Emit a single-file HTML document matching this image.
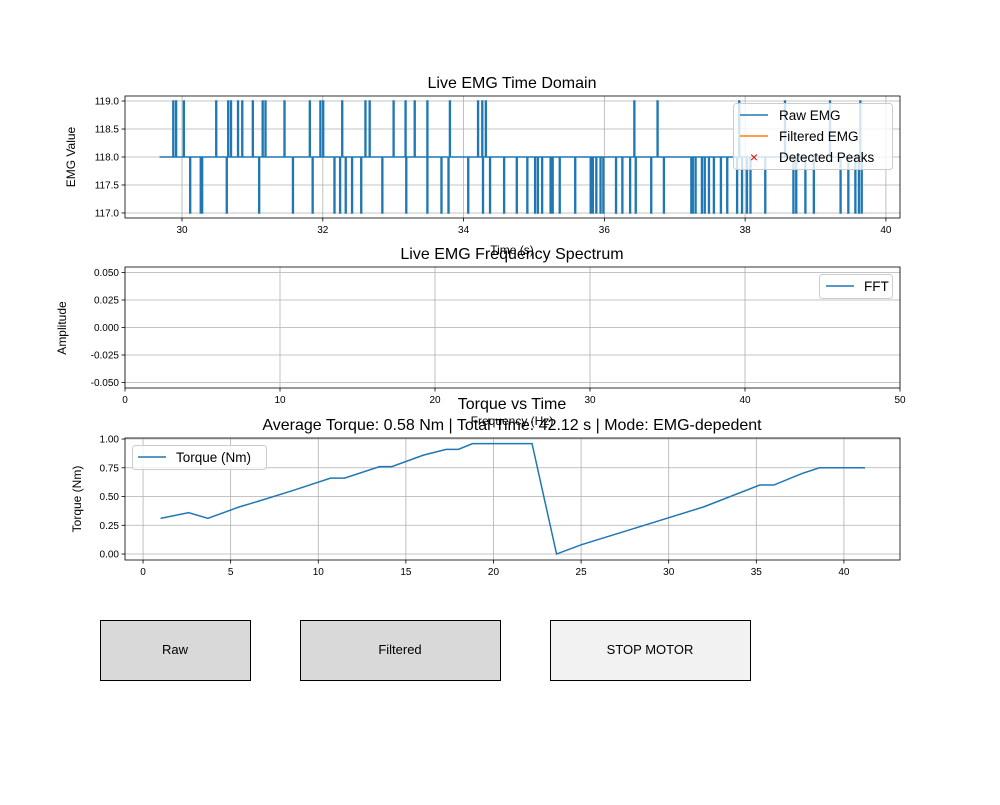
<!DOCTYPE html>
<html><head><meta charset="utf-8"><style>
body{margin:0;background:#fff;}
svg text{font-family:"Liberation Sans","DejaVu Sans",sans-serif;fill:#000;}
</style></head><body>
<svg id="fig" width="1000" height="800" viewBox="0 0 1000 800" xmlns="http://www.w3.org/2000/svg">
<rect width="1000" height="800" fill="#fff"/>
<g id="g1"></g>
<g id="g2"></g>
<g id="g3"></g>
<g><rect x="100.5" y="620.5" width="150" height="60" fill="#d9d9d9" stroke="#000"/><text x="175" y="654" font-size="13" text-anchor="middle">Raw</text></g>
<g><rect x="300.5" y="620.5" width="200" height="60" fill="#d9d9d9" stroke="#000"/><text x="400" y="654" font-size="13" text-anchor="middle">Filtered</text></g>
<g><rect x="550.5" y="620.5" width="200" height="60" fill="#f2f2f2" stroke="#000"/><text x="650" y="654" font-size="13" text-anchor="middle">STOP MOTOR</text></g>
</svg>
<script>
const emgStart = 29.68, emgEnd = 39.70, emgBase = 118;
const emgUpTimes = [29.87,29.91,30.02,30.48,30.65,30.69,30.79,30.85,31.00,31.14,31.18,31.45,31.81,31.96,32.0,32.27,32.60,32.66,33.0,33.17,33.30,33.48,33.80,34.20,34.26,34.31,36.42,36.75,37.91,38.56,39.20,39.63];
const emgDownTimes = [30.11,30.26,30.28,30.63,31.09,31.57,31.85,32.16,32.24,32.32,32.41,32.54,32.84,33.18,33.48,33.68,33.78,34.06,34.27,34.37,34.57,34.75,34.90,35.01,35.05,35.11,35.23,35.26,35.36,35.58,35.80,35.83,35.88,35.94,35.98,36.16,36.25,36.36,36.44,36.66,36.84,37.23,37.25,37.29,37.38,37.42,37.48,37.55,37.65,37.74,37.88,37.95,38.02,38.07,38.28,38.68,38.72,38.85,38.97,39.35,39.46,39.56,39.61,39.65];
const emgXTicks = [30,32,34,36,38,40];
const emgYTicks = [117.0,117.5,118.0,118.5,119.0];
const fftXTicks = [0,10,20,30,40,50];
const fftYTicks = [-0.050,-0.025,0.000,0.025,0.050];
const torqueT = [1,2.6,3.7,5.5,6.6,8.5,10.7,11.5,13.5,14.2,16,17.3,18,18.8,22.2,23.6,25,28.4,32,35.2,36,37.6,38.6,41.2];
const torqueV = [0.31,0.36,0.31,0.41,0.46,0.55,0.66,0.66,0.76,0.76,0.86,0.91,0.91,0.96,0.96,0.0,0.08,0.24,0.41,0.60,0.60,0.70,0.75,0.75];
const torqueXTicks = [0,5,10,15,20,25,30,35,40];
const torqueYTicks = [0.00,0.25,0.50,0.75,1.00];

const NS="http://www.w3.org/2000/svg";
function mk(parent,tag,attrs,text){const e=document.createElementNS(NS,tag);for(const k in attrs)e.setAttribute(k,attrs[k]);if(text!==undefined)e.textContent=text;parent.appendChild(e);return e;}
function scale(d0,d1,r0,r1){return v=>r0+(v-d0)/(d1-d0)*(r1-r0);}
function axes(g,L,T,R,B,xs,ys,xt,yt,xfmt,yfmt){
  xt.forEach(v=>{const x=xs(v);
    const l=mk(g,'line',{x1:x,x2:x,y1:T,y2:B,stroke:'#b0b0b0','stroke-width':0.8});
    
    mk(g,'line',{x1:x,x2:x,y1:B,y2:B+3.5,stroke:'#000','stroke-width':0.8});
    const t=mk(g,'text',{x:x,y:B+15,'font-size':10,'text-anchor':'middle'},xfmt(v));
    });
  yt.forEach(v=>{const y=ys(v);
    const l=mk(g,'line',{x1:L,x2:R,y1:y,y2:y,stroke:'#b0b0b0','stroke-width':0.8});
    
    mk(g,'line',{x1:L-3.5,x2:L,y1:y,y2:y,stroke:'#000','stroke-width':0.8});
    const t=mk(g,'text',{x:L-6,y:y+3.5,'font-size':10,'text-anchor':'end'},yfmt(v));
    });
}
function frame(g,L,T,R,B){const r=mk(g,'rect',{x:L,y:T,width:R-L,height:B-T,fill:'none',stroke:'#000','stroke-width':0.8});
  }

// Chart 1
(function(){
  const g=document.getElementById('g1');const L=125,T=96,R=900,B=218;
  const xs=scale(29.19,40.2,L,R), ys=scale(116.91,119.09,B,T);
  axes(g,L,T,R,B,xs,ys,emgXTicks,emgYTicks,v=>String(v),v=>v.toFixed(1));
  const ev=[];emgUpTimes.forEach(t=>ev.push([t,119]));emgDownTimes.forEach(t=>ev.push([t,117]));
  ev.sort((a,b)=>a[0]-b[0]);
  const w=0.012;let pts=[[emgStart,emgBase]];
  ev.forEach(([t,v])=>{pts.push([t,emgBase],[t,v],[t+w,v],[t+w,emgBase]);});
  pts.push([emgEnd,emgBase]);
  const p=mk(g,'polyline',{points:pts.map(q=>xs(q[0]).toFixed(2)+','+ys(q[1]).toFixed(2)).join(' '),fill:'none',stroke:'#1f77b4','stroke-width':1.5,'stroke-linejoin':'miter'});
  
  frame(g,L,T,R,B);
  let t=mk(g,'text',{x:512,y:88,'font-size':16,'text-anchor':'middle'},'Live EMG Time Domain');
  t=mk(g,'text',{x:512,y:254,'font-size':12,'text-anchor':'middle'},'Time (s)');
  t=mk(g,'text',{x:75,y:157,'font-size':12,'text-anchor':'middle',transform:'rotate(-90 75 157)'},'EMG Value');
  const lg=mk(g,'g',{});
  mk(lg,'rect',{x:733.5,y:103.5,width:159,height:66,rx:3,fill:'#fff','fill-opacity':0.8,stroke:'#ccc'});
  mk(lg,'line',{x1:740,x2:768,y1:115,y2:115,stroke:'#1f77b4','stroke-width':1.5});
  mk(lg,'text',{x:779,y:120,'font-size':13.5},'Raw EMG');
  mk(lg,'line',{x1:740,x2:768,y1:136,y2:136,stroke:'#ff7f0e','stroke-width':1.5});
  mk(lg,'text',{x:779,y:141,'font-size':13.5},'Filtered EMG');
  mk(lg,'text',{x:754,y:162,'font-size':14,'text-anchor':'middle',style:'fill:#e00'},'×');
  mk(lg,'text',{x:779,y:162,'font-size':13.5},'Detected Peaks');
})();
// Chart 2
(function(){
  const g=document.getElementById('g2');const L=125,T=267,R=900,B=388;
  const xs=scale(0,50,L,R), ys=scale(-0.055,0.055,B,T);
  axes(g,L,T,R,B,xs,ys,fftXTicks,fftYTicks,v=>String(v),v=>v.toFixed(3));
  frame(g,L,T,R,B);
  let t=mk(g,'text',{x:512,y:259,'font-size':16,'text-anchor':'middle'},'Live EMG Frequency Spectrum');
  t=mk(g,'text',{x:512,y:425,'font-size':12,'text-anchor':'middle'},'Frequency (Hz)');
  t=mk(g,'text',{x:66,y:328,'font-size':12,'text-anchor':'middle',transform:'rotate(-90 66 328)'},'Amplitude');
  const lg=mk(g,'g',{});
  mk(lg,'rect',{x:819.5,y:274.5,width:73,height:24,rx:3,fill:'#fff','fill-opacity':0.8,stroke:'#ccc'});
  mk(lg,'line',{x1:826,x2:854,y1:286,y2:286,stroke:'#1f77b4','stroke-width':1.5});
  mk(lg,'text',{x:864,y:291,'font-size':13.5},'FFT');
})();
// Chart 3
(function(){
  const g=document.getElementById('g3');const L=125,T=438,R=900,B=560;
  const xs=scale(-1.03,43.2,L,R), ys=scale(-0.052,1.009,B,T);
  axes(g,L,T,R,B,xs,ys,torqueXTicks,torqueYTicks,v=>String(v),v=>v.toFixed(2));
  const p=mk(g,'polyline',{points:torqueT.map((t,i)=>xs(t).toFixed(2)+','+ys(torqueV[i]).toFixed(2)).join(' '),fill:'none',stroke:'#1f77b4','stroke-width':1.5});
  
  frame(g,L,T,R,B);
  let t=mk(g,'text',{x:512,y:409,'font-size':16,'text-anchor':'middle'},'Torque vs Time');
  t=mk(g,'text',{x:512,y:430,'font-size':16,'text-anchor':'middle'},'Average Torque: 0.58 Nm | Total Time: 42.12 s | Mode: EMG-depedent');
  t=mk(g,'text',{x:81,y:499,'font-size':12,'text-anchor':'middle',transform:'rotate(-90 81 499)'},'Torque (Nm)');
  const lg=mk(g,'g',{});
  mk(lg,'rect',{x:132.5,y:445.5,width:134,height:24,rx:3,fill:'#fff','fill-opacity':0.8,stroke:'#ccc'});
  mk(lg,'line',{x1:138,x2:166,y1:457,y2:457,stroke:'#1f77b4','stroke-width':1.5});
  mk(lg,'text',{x:176,y:462,'font-size':13.5},'Torque (Nm)');
})();
</script>
</body></html>
